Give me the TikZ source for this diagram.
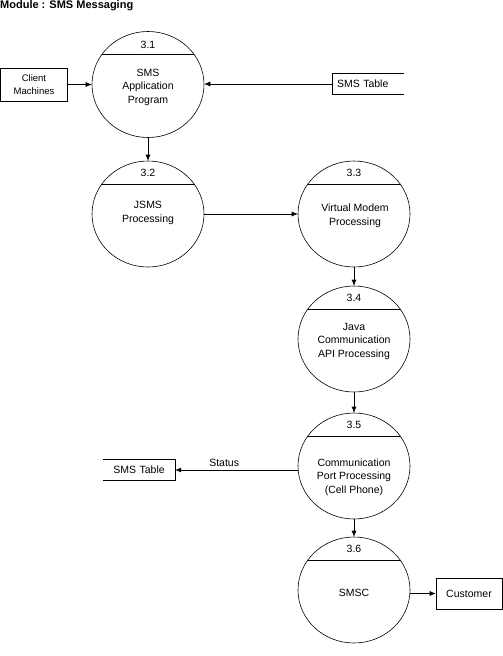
\documentclass[tikz,border=0pt]{standalone}
\usepackage{fontspec}
\setmainfont{Liberation Sans}
\usetikzlibrary{arrows.meta, shapes.geometric}

\tikzset{
  process/.style={ellipse, draw, line width=0.6pt, minimum width=112pt, minimum height=106pt, inner sep=0pt,
    path picture={\draw[line width=0.6pt] ([yshift=-23pt]path picture bounding box.north west) -- ([yshift=-23pt]path picture bounding box.north east);}},
  txt/.style={align=center, inner sep=0pt, font=\fontsize{10.5}{13.5}\selectfont},
  store/.style={minimum height=21pt, text width=62pt, inner xsep=5pt, inner ysep=0pt, font=\fontsize{10.5}{13.5}\selectfont},
  entity/.style={draw, line width=0.6pt, minimum width=67pt, minimum height=33pt, inner sep=0pt, align=center, font=\fontsize{9.5}{13.5}\selectfont},
  flow/.style={line width=0.6pt, -{Latex[length=6pt, width=5pt]}}
}

\begin{document}
\begin{tikzpicture}[x=1pt, y=-1pt]
		\useasboundingbox (0,0) rectangle (503,656);
		%Titre
		\node[anchor=west, inner sep=0pt, font=\bfseries\fontsize{11}{12}\selectfont] (titre) at (0,6) {Module : SMS Messaging};
		%Processus
		\node[process] (P31) at (148,84.5) {};
		\node[process] (P32) at (148,214) {};
		\node[process] (P33) at (354,214) {};
		\node[process] (P34) at (354,339) {};
		\node[process] (P35) at (354,466) {};
		\node[process] (P36) at (354,590) {};
		%Numeros
		\node[txt] (N31) at ([yshift=-14pt]P31.north) {3.1};
		\node[txt] (N32) at ([yshift=-12pt]P32.north) {3.2};
		\node[txt] (N33) at ([yshift=-12pt]P33.north) {3.3};
		\node[txt] (N34) at ([yshift=-12pt]P34.north) {3.4};
		\node[txt] (N35) at ([yshift=-12pt]P35.north) {3.5};
		\node[txt] (N36) at ([yshift=-12pt]P36.north) {3.6};
		%Textes
		\node[txt] (T31) at (148,87) {SMS\\Application\\Program};
		\node[txt] (T32) at (148,213) {JSMS\\Processing};
		\node[txt] (T33) at (355,216) {Virtual Modem\\Processing};
		\node[txt] (T34) at (354,341) {Java\\Communication\\API Processing};
		\node[txt] (T35) at (354,477) {Communication\\Port Processing\\(Cell Phone)};
		\node[txt] (T36) at (354,593) {SMSC};
		%Entites et depots
		\node[entity] (C) at (34,84.5) {Client\\Machines};
		\node[entity, minimum width=66pt, minimum height=31pt, font=\fontsize{10.5}{13.5}\selectfont] (K) at (469,593.5) {Customer};
		\node[store, align=left] (S1) at (368,84) {SMS Table};
		\draw[line width=0.6pt] (S1.north east) -- (S1.north west) -- (S1.south west) -- (S1.south east);
		\node[store, align=center] (S2) at (139,470) {SMS Table};
		\draw[line width=0.6pt] (S2.north west) -- (S2.north east) -- (S2.south east) -- (S2.south west);
		%Flux
		\draw[flow] (C.east) -- (P31.west);
		\draw[flow] (S1.west) -- (S1.west -| P31.east);
		\draw[flow] (P31.south) -- (P32.north);
		\draw[flow] (P32.east) -- (P33.west);
		\draw[flow] (P33.south) -- (P34.north);
		\draw[flow] (P34.south) -- (P35.north);
		\draw[flow] (P35.west |- S2.east) -- node[above, pos=0.6, txt, yshift=3pt] {Status} (S2.east);
		\draw[flow] (P35.south) -- (P36.north);
		\draw[flow] (P36.east |- K.west) -- (K.west);
	\end{tikzpicture}
\end{document}
